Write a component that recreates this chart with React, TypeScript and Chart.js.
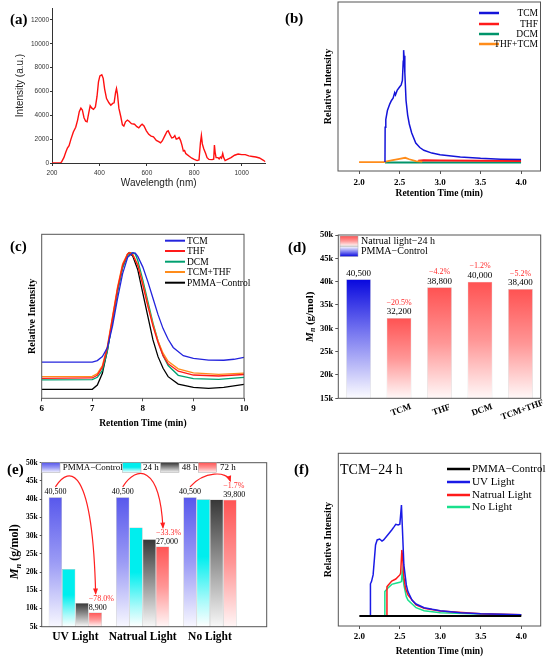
import React, { useEffect, useRef } from "react";
import { Chart, registerables } from "chart.js";

Chart.register(...registerables);

const SERIF = "'Liberation Serif', 'Times New Roman', serif";
const SANS = "'Liberation Sans', Arial, sans-serif";

Chart.defaults.font.family = SERIF;
Chart.defaults.color = "#000";

// (a) light source spectrum
const specWave = [
  200, 235, 240, 250, 258, 265, 272, 280, 290, 300, 308, 315, 322, 328, 335, 342, 348, 355, 361, 368,
  375, 383, 390, 396, 402, 410, 416, 422, 430, 440, 448, 456, 462, 468, 472, 476, 482, 490, 497, 503,
  510, 518, 525, 535, 548, 558, 566, 574, 580, 588, 598, 608, 618, 628, 640, 650, 658, 665, 675, 685,
  690, 697, 705, 712, 718, 724, 730, 736, 742, 748, 754, 759, 764, 770, 780, 790, 800, 812, 820, 826,
  830, 834, 840, 848, 854, 862, 875, 882, 885, 888, 892, 900, 905, 910, 915, 920, 924, 930, 940, 955,
  970, 985, 1000, 1015, 1030, 1045, 1060, 1075, 1090, 1100,
];
const specInt = [
  0, 0, 80, 450, 900, 1250, 1450, 2000, 2600, 3000, 3600, 4300, 4600, 4450, 3800, 3500, 3450, 4200, 4800, 4600,
  4500, 4700, 5600, 6800, 7300, 7400, 7100, 6200, 5400, 5050, 4850, 5000, 5050, 5900, 6250, 5800, 4600, 3900, 3200, 3100,
  3450, 3600, 3500, 3300, 3250, 3050, 2950, 3150, 3250, 3100, 2700, 2400, 2250, 2200, 1900, 1800, 1700, 1850, 2250, 2650,
  2700, 2400, 2100, 2150, 2300, 2000, 2050, 2150, 1900, 1500, 1000, 1050, 800, 700, 550, 400, 300, 200, 250, 1700,
  2300, 1600, 1200, 800, 450, 300, 280, 320, 1500, 900, 450, 450, 350, 500, 400, 800, 450, 200, 300, 450,
  650, 750, 700, 700, 600, 550, 500, 420, 250, 100,
];
const specXTicks = [200, 400, 600, 800, 1000];
const specYTicks = [0, 2000, 4000, 6000, 8000, 10000, 12000];

// (b) solvents, relative intensity vs retention time
const bNames = ["TCM", "THF", "DCM", "THF+TCM"];
const bTcmT = [2.32, 2.322, 2.33, 2.35, 2.38, 2.4, 2.42, 2.44, 2.45, 2.47, 2.5, 2.52, 2.535, 2.545, 2.55, 2.555, 2.565, 2.58, 2.6, 2.62, 2.65, 2.7, 2.75, 2.8, 2.9, 3.0, 3.25, 3.5, 3.75, 4.0];
const bTcmI = [0, 31, 38, 46, 52, 55, 57, 62, 60, 64, 67, 69, 73, 90, 100, 95, 80, 55, 42, 34, 26, 17, 13, 10.5, 8, 6.5, 4.5, 3.3, 2.6, 2.2];
const bThfT = [2.73, 2.8, 3.0, 3.5, 4.0];
const bThfI = [1.2, 1.6, 1.4, 1.2, 1.0];
const bDcmT = [2.32, 4.0];
const bDcmI = [-0.4, -0.4];
const bMixT = [2.0, 2.3, 2.4, 2.5, 2.57, 2.62, 2.7, 2.78];
const bMixI = [0, 0, 1.5, 2.8, 3.8, 2.5, 0.8, 0.3];
const rtTicks = [2.0, 2.5, 3.0, 3.5, 4.0];

// (c) GPC traces
const cNames = ["TCM", "THF", "DCM", "TCM+THF", "PMMA\u2212Control"];
const cTcmT = [6, 7.0, 7.1, 7.2, 7.3, 7.4, 7.5, 7.6, 7.7, 7.8, 7.85, 7.9, 8.0, 8.1, 8.2, 8.3, 8.4, 8.5, 8.6, 8.8, 9.0, 9.3, 9.6, 9.8, 10];
const cTcmI = [22.0, 22.0, 23.0, 25.5, 31, 44, 61, 76, 86, 88.8, 88.5, 86.5, 80, 71, 61, 51, 42.5, 36, 31, 26, 24.3, 23.3, 23.2, 23.8, 25];
const cThfT = [6, 7.0, 7.1, 7.2, 7.3, 7.4, 7.5, 7.6, 7.7, 7.75, 7.8, 7.9, 8.0, 8.1, 8.2, 8.3, 8.4, 8.5, 8.7, 9.0, 9.5, 10];
const cThfI = [12.2, 12.4, 14, 19, 31, 49, 67, 81, 88, 88.8, 87.5, 81, 69, 56, 44, 34, 26, 21, 16.5, 14.2, 13.6, 14.5];
const cMixT = [6, 7.0, 7.1, 7.2, 7.3, 7.4, 7.5, 7.6, 7.7, 7.75, 7.8, 7.9, 8.0, 8.1, 8.2, 8.3, 8.4, 8.5, 8.7, 9.0, 9.5, 10];
const cMixI = [13.2, 13.4, 15, 20, 32, 50, 68, 82, 88.3, 88.8, 87.8, 81.5, 70, 57, 45, 35, 27.5, 22.5, 18, 15.5, 14.6, 15.3];
const cDcmT = [6, 7.0, 7.1, 7.2, 7.3, 7.4, 7.5, 7.6, 7.7, 7.78, 7.85, 7.9, 8.0, 8.1, 8.2, 8.3, 8.4, 8.5, 8.7, 9.0, 9.5, 10];
const cDcmI = [11.2, 11.4, 12.8, 17, 29, 47, 65, 79.5, 87, 88.8, 88, 84, 72, 59, 46, 35, 26, 20, 14, 12, 11.6, 12.8];
const cCtrlT = [6, 7.0, 7.1, 7.2, 7.3, 7.4, 7.5, 7.6, 7.7, 7.73, 7.8, 7.9, 8.0, 8.1, 8.2, 8.3, 8.4, 8.5, 8.7, 9.0, 9.3, 9.6, 10];
const cCtrlI = [5.5, 5.5, 8.1, 15.2, 29.5, 47.8, 66, 80.3, 88.0, 88.8, 86.8, 78.3, 64, 49.8, 35.6, 25.4, 18.3, 13.2, 8.7, 6.7, 6.1, 6.7, 8.5];
const cTicks = [6, 7, 8, 9, 10];

// (d) Mn after 24 h natural light
const dCats = ["", "TCM", "THF", "DCM", "TCM+THF"];
const dMn = [40500, 32200, 38800, 40000, 38400];
const dLegend = ["Natrual light\u221224 h", "PMMA\u2212Control"];
const dYTicks = [15000, 20000, 25000, 30000, 35000, 40000, 45000, 50000];

// (e) Mn under three light conditions
const eGroups = ["UV Light", "Natrual Light", "No Light"];
const eSeries = ["PMMA\u2212Control", "24 h", "48 h", "72 h"];
const eControl = [40500, 40500, 40500];
const e24h = [20800, 32200, 40000];
const e48h = [11500, 29000, 39900];
const e72h = [8900, 27000, 39800];
const eYTicks = [5000, 10000, 15000, 20000, 25000, 30000, 35000, 40000, 45000, 50000];

// (f) TCM 24 h under light conditions
const fNames = ["PMMA\u2212Control", "UV Light", "Natrual Light", "No Light"];
const fCtrlT = [2.0, 4.0];
const fCtrlI = [0, 0];
const fUvT = [2.136, 2.137, 2.15, 2.17, 2.2, 2.22, 2.25, 2.28, 2.3, 2.35, 2.4, 2.43, 2.45, 2.48, 2.5, 2.51, 2.52, 2.53, 2.55, 2.58, 2.6, 2.65, 2.7, 2.8, 2.9, 3.0, 3.25, 3.5, 4.0];
const fUvI = [0, 29, 31, 37, 64, 68.5, 69.3, 67.5, 68.5, 73, 77.5, 80.5, 82.6, 82, 82.6, 91, 100, 82, 46, 28, 22, 14.4, 10.8, 7.5, 6, 4.8, 3, 2.1, 1.2];
const fNatT = [2.34, 2.341, 2.35, 2.4, 2.45, 2.5, 2.51, 2.525, 2.535, 2.55, 2.57, 2.6, 2.7, 2.8, 3.0, 3.5, 4.0];
const fNatI = [0, 26.4, 27.3, 31.5, 33.3, 37, 38.4, 59.5, 52, 35, 25, 19, 10, 7, 4.5, 2, 1.2];
const fNoT = [2.27, 2.31, 2.315, 2.35, 2.4, 2.45, 2.5, 2.52, 2.53, 2.55, 2.58, 2.6, 2.7, 2.8, 3.0, 3.5, 4.0];
const fNoI = [0, 0.5, 22, 25, 28.5, 29.4, 30.3, 31, 40, 28, 17.4, 14.4, 7.5, 4.8, 3, 1.8, 1];

type Stop = [number, string];

const D_BLUE: Stop[] = [[0, "rgb(8,8,222)"], [0.45, "rgb(120,120,240)"], [1, "rgb(252,252,255)"]];
const D_RED: Stop[] = [[0, "rgb(255,82,82)"], [0.5, "rgb(255,150,150)"], [1, "rgb(255,248,248)"]];
const E_STOPS: Stop[][] = [
  [[0, "rgb(88,88,236)"], [0.5, "rgb(155,155,245)"], [1, "rgb(248,248,255)"]],
  [[0, "rgb(0,238,238)"], [0.45, "rgb(0,238,238)"], [0.8, "rgb(170,250,250)"], [1, "rgb(255,255,255)"]],
  [[0, "rgb(55,55,55)"], [0.5, "rgb(150,150,150)"], [1, "rgb(248,248,248)"]],
  [[0, "rgb(255,85,85)"], [0.5, "rgb(255,150,150)"], [1, "rgb(255,246,246)"]],
];
const eArrowLift = [22, 22, 10];

const PCT_RED = "#ff2a2a";

const fixW = (w: number) => (s: any) => {
  s.width = w;
};
const fixH = (h: number) => (s: any) => {
  s.height = h;
};
const setTicks = (vals: number[]) => (s: any) => {
  s.ticks = vals.map((v) => ({ value: v }));
};

const pts = (xs: number[], ys: number[]) => xs.map((x, i) => ({ x, y: ys[i] }));

const line = (xs: number[], ys: number[], color: string, width: number) => ({
  data: pts(xs, ys),
  borderColor: color,
  borderWidth: width,
  pointRadius: 0,
  fill: false,
  tension: 0,
});

const fmt = (v: number) => v.toLocaleString("en-US");
const pct = (v: number, base: number) =>
  "\u2212" + Math.abs(((v - base) / base) * 100).toFixed(1) + "%";

const barGradient = (c: any, stops: Stop[]) => {
  const chart = c.chart;
  const area = chart.chartArea;
  const v = c.parsed ? c.parsed.y : undefined;
  if (!area || v === undefined) return stops[0][1];
  const top = Math.max(area.top, chart.scales.y.getPixelForValue(v));
  if (!isFinite(top)) return stops[0][1];
  const g = chart.ctx.createLinearGradient(0, top, 0, area.bottom);
  stops.forEach(([o, col]) => g.addColorStop(o, col));
  return g;
};

const framePlugin = {
  id: "frame",
  afterDatasetsDraw(chart: any) {
    const { ctx, chartArea: a } = chart;
    ctx.save();
    ctx.strokeStyle = "#555";
    ctx.lineWidth = 1;
    ctx.strokeRect(a.left, a.top, a.right - a.left, a.bottom - a.top);
    ctx.restore();
  },
};

function lineLegend(
  ctx: CanvasRenderingContext2D,
  names: string[],
  colors: string[],
  x1: number,
  x2: number,
  textX: number,
  rows: number[],
  size: number,
  lw: number,
  align: CanvasTextAlign
) {
  ctx.save();
  ctx.font = `${size}px ${SERIF}`;
  ctx.textBaseline = "middle";
  ctx.textAlign = align;
  names.forEach((n, i) => {
    ctx.strokeStyle = colors[i];
    ctx.lineWidth = lw;
    ctx.beginPath();
    ctx.moveTo(x1, rows[i]);
    ctx.lineTo(x2, rows[i]);
    ctx.stroke();
    ctx.fillStyle = "#000";
    ctx.fillText(n, textX, rows[i] + 0.5);
  });
  ctx.restore();
}

function swatch(ctx: CanvasRenderingContext2D, x: number, y: number, w: number, h: number, stops: Stop[], flip = false) {
  const g = ctx.createLinearGradient(0, flip ? y + h : y, 0, flip ? y : y + h);
  stops.forEach(([o, c]) => g.addColorStop(o, c));
  ctx.fillStyle = g;
  ctx.fillRect(x, y, w, h);
  ctx.strokeStyle = "#aaa";
  ctx.lineWidth = 0.5;
  ctx.strokeRect(x, y, w, h);
}

function drawMnTitle(ctx: CanvasRenderingContext2D, cx: number, cy: number, size: number) {
  ctx.save();
  ctx.translate(cx, cy);
  ctx.rotate(-Math.PI / 2);
  const big = `italic bold ${size}px ${SERIF}`;
  const small = `italic bold ${size * 0.7}px ${SERIF}`;
  const rest = `bold ${size}px ${SERIF}`;
  ctx.font = big;
  const w1 = ctx.measureText("M").width;
  ctx.font = small;
  const w2 = ctx.measureText("n").width;
  ctx.font = rest;
  const w3 = ctx.measureText(" (g/mol)").width;
  let x = -(w1 + w2 + w3) / 2;
  ctx.textBaseline = "middle";
  ctx.textAlign = "left";
  ctx.fillStyle = "#000";
  ctx.font = big;
  ctx.fillText("M", x, 0);
  x += w1;
  ctx.font = small;
  ctx.fillText("n", x, size * 0.28);
  x += w2;
  ctx.font = rest;
  ctx.fillText(" (g/mol)", x, 0);
  ctx.restore();
}

const baseOptions = (pad: any) => ({
  animation: false,
  responsive: true,
  maintainAspectRatio: false,
  events: [],
  layout: { padding: pad },
  plugins: { legend: { display: false }, tooltip: { enabled: false } },
});

const retentionScales = (o: any) => ({
  x: {
    type: "linear",
    min: o.xMin,
    max: o.xMax,
    afterBuildTicks: setTicks(o.xTicks),
    afterFit: fixH(o.xH),
    border: { display: false },
    grid: { drawOnChartArea: false, color: "#555", tickLength: 3 },
    ticks: {
      callback: o.fmt,
      font: { size: 9, weight: "bold" },
      color: "#000",
      padding: o.tickPad,
      autoSkip: false,
      maxRotation: 0,
    },
    title: {
      display: true,
      text: "Retention Time (min)",
      font: { size: 9.5, weight: "bold" },
      color: "#000",
      padding: { top: 0, bottom: o.xTitlePad },
    },
  },
  y: {
    type: "linear",
    min: o.yMin,
    max: o.yMax,
    afterFit: fixW(o.yW),
    border: { display: false },
    grid: { display: false },
    ticks: { display: false },
    title: {
      display: true,
      text: "Relative Intensity",
      font: { size: 10, weight: "bold" },
      color: "#000",
      padding: { top: o.yTitlePad, bottom: 0 },
    },
  },
});

// ---------- (a)
const makeA = () => ({
  type: "line",
  data: { datasets: [line(specWave, specInt, "#ff1010", 1.4)] },
  options: {
    ...baseOptions({ top: 8, right: 9.6, left: 0, bottom: 0 }),
    scales: {
      x: {
        type: "linear",
        min: 200,
        max: 1100,
        afterBuildTicks: setTicks(specXTicks),
        afterFit: fixH(47),
        border: { color: "#333", width: 1 },
        grid: { drawOnChartArea: false, color: "#333", tickLength: 3 },
        ticks: { callback: (v: number) => String(v), font: { family: SANS, size: 6.5 }, color: "#333", padding: 3, autoSkip: false, maxRotation: 0 },
        title: { display: true, text: "Wavelength (nm)", font: { family: SANS, size: 10 }, color: "#222", padding: { top: 0, bottom: 21 } },
      },
      y: {
        type: "linear",
        min: 0,
        max: 13000,
        afterBuildTicks: setTicks(specYTicks),
        afterFit: fixW(52),
        border: { color: "#333", width: 1 },
        grid: { drawOnChartArea: false, color: "#333", tickLength: 2 },
        ticks: { callback: (v: number) => String(v), font: { family: SANS, size: 6.5 }, color: "#333", padding: 1 },
        title: { display: true, text: "Intensity (a.u.)", font: { family: SANS, size: 10 }, color: "#222", padding: { top: 14.7, bottom: 0 } },
      },
    },
  },
});

// ---------- (b)
const bColors = ["#1414d9", "#ff1a1a", "#00946a", "#ff8c1a"];
const makeB = () => ({
  type: "line",
  data: {
    datasets: [
      line(bTcmT, bTcmI, bColors[0], 1.5),
      line(bMixT, bMixI, bColors[3], 1.8),
      line(bThfT, bThfI, bColors[1], 2),
      line(bDcmT, bDcmI, bColors[2], 2),
    ],
  },
  options: {
    ...baseOptions({ top: 2, right: 9.5, left: 0, bottom: 0 }),
    scales: retentionScales({
      xMin: 1.74, xMax: 4.24, yMin: -8, yMax: 143, xTicks: rtTicks,
      fmt: (v: number) => v.toFixed(1), xH: 39, yW: 63, tickPad: 3, xTitlePad: 11, yTitlePad: 47,
    }),
  },
  plugins: [
    framePlugin,
    {
      id: "bLegend",
      afterDraw(chart: any) {
        lineLegend(chart.ctx, bNames, bColors, 204, 224, 263, [13, 24, 34, 44], 9.5, 2.5, "right");
      },
    },
  ],
});

// ---------- (c)
const cColors = ["#2424dd", "#ff1a1a", "#00a070", "#ff8c1a", "#000000"];
const makeC = () => ({
  type: "line",
  data: {
    datasets: [
      line(cTcmT, cTcmI, cColors[0], 1.3),
      line(cThfT, cThfI, cColors[1], 1.3),
      line(cMixT, cMixI, cColors[3], 1.3),
      line(cDcmT, cDcmI, cColors[2], 1.3),
      line(cCtrlT, cCtrlI, cColors[4], 1.3),
    ],
  },
  options: {
    ...baseOptions({ top: 24.3, right: 31, left: 0, bottom: 0 }),
    scales: retentionScales({
      xMin: 6, xMax: 10, yMin: 0, yMax: 100, xTicks: cTicks,
      fmt: (v: number) => String(v), xH: 41.7, yW: 41.7, tickPad: 1.5, xTitlePad: 11, yTitlePad: 26,
    }),
  },
  plugins: [
    framePlugin,
    {
      id: "cLegend",
      afterDraw(chart: any) {
        lineLegend(chart.ctx, cNames, cColors, 165, 185, 187, [30.7, 41, 51.7, 62, 72.7], 9.5, 2, "left");
      },
    },
  ],
});

// ---------- (d)
const makeD = () => ({
  type: "bar",
  data: {
    labels: dCats,
    datasets: [
      {
        data: dMn,
        backgroundColor: (c: any) => barGradient(c, c.dataIndex === 0 ? D_BLUE : D_RED),
        borderColor: "#c8c8c8",
        borderWidth: 0.5,
        categoryPercentage: 1,
        barPercentage: 0.61,
      },
    ],
  },
  options: {
    ...baseOptions({ top: 25, right: 9.3, left: 0, bottom: 0 }),
    scales: {
      x: {
        afterFit: fixH(26.7),
        grid: { display: false },
        border: { display: false },
        ticks: { display: false },
      },
      y: {
        min: 15000,
        max: 50000,
        afterBuildTicks: setTicks(dYTicks),
        afterFit: fixW(63.3),
        border: { display: false },
        grid: { drawOnChartArea: false, color: "#555", tickLength: 3 },
        ticks: { callback: (v: number) => v / 1000 + "k", font: { size: 8.5, weight: "bold" }, color: "#000", padding: 2 },
      },
    },
  },
  plugins: [
    framePlugin,
    {
      id: "dDecor",
      afterDraw(chart: any) {
        const ctx: CanvasRenderingContext2D = chart.ctx;
        const xs = chart.scales.x;
        const bars = chart.getDatasetMeta(0).data;
        ctx.save();
        ctx.textAlign = "center";
        ctx.textBaseline = "middle";
        bars.forEach((bar: any, i: number) => {
          ctx.fillStyle = "#000";
          ctx.font = `9px ${SERIF}`;
          ctx.fillText(fmt(dMn[i]), bar.x, bar.y - 6);
          if (i > 0) {
            ctx.fillStyle = PCT_RED;
            ctx.font = `8px ${SERIF}`;
            ctx.fillText(pct(dMn[i], dMn[0]), bar.x, bar.y - 15.5);
          }
        });
        ctx.fillStyle = "#000";
        ctx.font = `bold 9px ${SERIF}`;
        dCats.forEach((c, i) => {
          if (!c) return;
          ctx.save();
          ctx.translate(xs.getPixelForValue(i) + 2, 200);
          ctx.rotate((-20 * Math.PI) / 180);
          ctx.fillText(c, 0, 0);
          ctx.restore();
        });
        // legend
        swatch(ctx, 65, 26, 18, 10, D_RED);
        swatch(ctx, 65, 36.5, 18, 10, D_BLUE, true);
        ctx.textAlign = "left";
        ctx.fillStyle = "#000";
        ctx.font = `10px ${SERIF}`;
        ctx.fillText(dLegend[0], 86, 31);
        ctx.fillText(dLegend[1], 86, 41.7);
        ctx.restore();
        drawMnTitle(ctx, 35, 106.7, 11);
      },
    },
  ],
});

// ---------- (e)
const eData = [eControl, e24h, e48h, e72h];
const makeE = () => ({
  type: "bar",
  data: {
    datasets: eSeries.map((name, s) => ({
      label: name,
      data: pts([0, 1, 2], eData[s]),
      backgroundColor: (c: any) => barGradient(c, E_STOPS[s]),
      borderColor: "#aaa",
      borderWidth: 0.5,
      categoryPercentage: 0.79,
      barPercentage: 1,
    })),
  },
  options: {
    ...baseOptions({ top: 37.7, right: 8.3, left: 0, bottom: 0 }),
    scales: {
      x: {
        type: "linear",
        min: -0.5,
        max: 2.843,
        offset: false,
        afterBuildTicks: setTicks([0, 1, 2]),
        afterFit: fixH(36.3),
        grid: { display: false, drawTicks: false, offset: false },
        border: { display: false },
        ticks: {
          callback: (v: number) => eGroups[v] ?? "",
          font: { size: 11.5, weight: "bold" },
          color: "#000",
          padding: 3.5,
          autoSkip: false,
          maxRotation: 0,
        },
      },
      y: {
        min: 5000,
        max: 50000,
        afterBuildTicks: setTicks(eYTicks),
        afterFit: fixW(41.7),
        border: { display: false },
        grid: { drawOnChartArea: false, color: "#555", tickLength: 2 },
        ticks: { callback: (v: number) => v / 1000 + "k", font: { size: 7.5, weight: "bold" }, color: "#000", padding: 2 },
      },
    },
  },
  plugins: [
    framePlugin,
    {
      id: "eDecor",
      afterDraw(chart: any) {
        const ctx: CanvasRenderingContext2D = chart.ctx;
        const ctrl = chart.getDatasetMeta(0).data;
        const last = chart.getDatasetMeta(3).data;
        ctx.save();
        ctx.textBaseline = "middle";
        eGroups.forEach((_, g) => {
          const c = ctrl[g];
          const b = last[g];
          const left = b.x - b.width / 2;
          ctx.fillStyle = "#000";
          ctx.font = `8px ${SERIF}`;
          ctx.textAlign = "center";
          ctx.fillText(fmt(eControl[g]), c.x, c.y - 5);
          ctx.textAlign = "left";
          ctx.fillText(fmt(e72h[g]), left, b.y - 5);
          ctx.fillStyle = PCT_RED;
          ctx.fillText(pct(e72h[g], eControl[g]), left, b.y - 14);
          // arrow from control to 72 h
          const sx = c.x;
          const sy = c.y - 10.5;
          const ex = left + 7;
          const ey = b.y - 19;
          const cy = Math.min(sy, ey) - eArrowLift[g];
          const p1x = sx + (ex - sx) * 0.35;
          const p2x = ex - (ex - sx) * 0.08;
          ctx.strokeStyle = "#ff2020";
          ctx.fillStyle = "#ff2020";
          ctx.lineWidth = 1.2;
          ctx.beginPath();
          ctx.moveTo(sx, sy);
          ctx.bezierCurveTo(p1x, cy, p2x, cy, ex, ey);
          ctx.stroke();
          const ang = Math.atan2(ey - cy, ex - p2x);
          ctx.beginPath();
          ctx.moveTo(ex + Math.cos(ang) * 1.5, ey + Math.sin(ang) * 1.5);
          ctx.lineTo(ex - Math.cos(ang) * 5 - Math.sin(ang) * 2.5, ey - Math.sin(ang) * 5 + Math.cos(ang) * 2.5);
          ctx.lineTo(ex - Math.cos(ang) * 5 + Math.sin(ang) * 2.5, ey - Math.sin(ang) * 5 - Math.cos(ang) * 2.5);
          ctx.closePath();
          ctx.fill();
        });
        // legend row
        const swX = [41.7, 122.7, 160.7, 198.3];
        const txX = [62.7, 143, 181.7, 220];
        ctx.font = `9px ${SERIF}`;
        ctx.textAlign = "left";
        eSeries.forEach((name, s) => {
          swatch(ctx, swX[s], 37.7, 18.3, 10, E_STOPS[s]);
          ctx.fillStyle = "#000";
          ctx.fillText(name, txX[s], 43);
        });
        ctx.restore();
        drawMnTitle(ctx, 15, 126.7, 12);
      },
    },
  ],
});

// ---------- (f)
const fColors = ["#000000", "#1a1ae6", "#ff1a1a", "#19e08c"];
const makeF = () => ({
  type: "line",
  data: {
    datasets: [
      line(fCtrlT, fCtrlI, fColors[0], 2.2),
      line(fUvT, fUvI, fColors[1], 1.5),
      line(fNatT, fNatI, fColors[2], 1.5),
      line(fNoT, fNoI, fColors[3], 1.5),
    ],
  },
  options: {
    ...baseOptions({ top: 28.3, right: 9.3, left: 0, bottom: 0 }),
    scales: retentionScales({
      xMin: 1.74, xMax: 4.24, yMin: -9, yMax: 146.5, xTicks: rtTicks,
      fmt: (v: number) => v.toFixed(1), xH: 37, yW: 63.3, tickPad: 2.2, xTitlePad: 5.3, yTitlePad: 47.3,
    }),
  },
  plugins: [
    framePlugin,
    {
      id: "fLegend",
      afterDraw(chart: any) {
        const ctx: CanvasRenderingContext2D = chart.ctx;
        lineLegend(ctx, fNames, fColors, 172, 195, 197, [44, 57, 70, 82], 11, 2.5, "left");
        ctx.save();
        ctx.font = `14px ${SERIF}`;
        ctx.textAlign = "left";
        ctx.textBaseline = "middle";
        ctx.fillStyle = "#000";
        ctx.fillText("TCM\u221224 h", 65, 45);
        ctx.restore();
      },
    },
  ],
});

const Panel = ({ x, y, w, h, make }: { x: number; y: number; w: number; h: number; make: () => any }) => {
  const canvasRef = useRef<HTMLCanvasElement>(null);

  useEffect(() => {
    if (!canvasRef.current) return;
    const chart = new Chart(canvasRef.current, make());
    return () => {
      chart.destroy();
    };
  }, [make]);

  return (
    <div style={{ position: "absolute", left: x, top: y, width: w, height: h }}>
      <canvas ref={canvasRef} />
    </div>
  );
};

const panelLabels = [
  { t: "(a)", x: 10, y: 18.5 },
  { t: "(b)", x: 285, y: 17.5 },
  { t: "(c)", x: 10, y: 246 },
  { t: "(d)", x: 288, y: 247 },
  { t: "(e)", x: 7, y: 469 },
  { t: "(f)", x: 294, y: 469 },
];

export default function App() {
  return (
    <div style={{ position: "absolute", left: 0, top: 0, width: 550, height: 663, background: "#fff", overflow: "hidden" }}>
      <Panel x={0} y={0} w={275} h={210} make={makeA} />
      <Panel x={275} y={0} w={275} h={210} make={makeB} />
      <Panel x={0} y={210} w={275} h={230} make={makeC} />
      <Panel x={275} y={210} w={275} h={215} make={makeD} />
      <Panel x={0} y={425} w={275} h={238} make={makeE} />
      <Panel x={275} y={425} w={275} h={238} make={makeF} />
      {panelLabels.map((p) => (
        <div
          key={p.t}
          style={{
            position: "absolute",
            left: p.x,
            top: p.y - 8,
            font: `bold 15px ${SERIF}`,
            lineHeight: "16px",
            color: "#000",
          }}
        >
          {p.t}
        </div>
      ))}
    </div>
  );
}
